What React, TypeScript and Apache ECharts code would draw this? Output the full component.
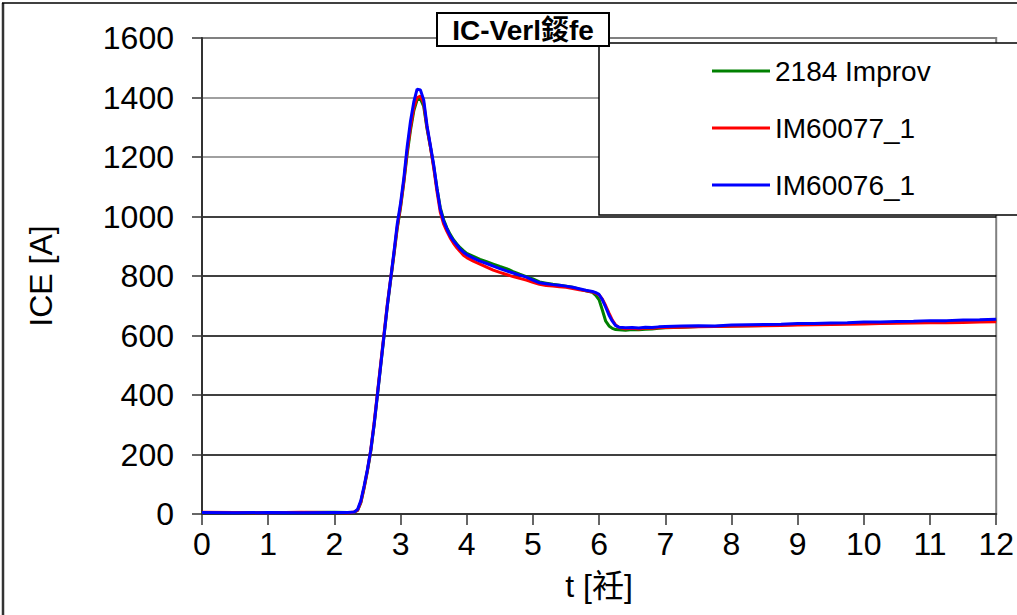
import React, { useEffect, useRef } from "react";
import * as echarts from "echarts";

const seriesNames = ["2184 Improv", "IM60077_1", "IM60076_1"];
const seriesColors = ["#008000", "#ff0000", "#0000ff"];

const xTicks = [0, 1, 2, 3, 4, 5, 6, 7, 8, 9, 10, 11, 12];
const yTicks = [0, 200, 400, 600, 800, 1000, 1200, 1400, 1600];

const timeS = [
  0, 0.5, 1, 1.5, 2, 2.2,
  2.25, 2.3, 2.35, 2.4, 2.45, 2.5, 2.55, 2.6, 2.65, 2.7, 2.75, 2.8, 2.85, 2.9, 2.95, 3, 3.05, 3.1, 3.15, 3.2,
  3.25, 3.3, 3.35, 3.4, 3.45, 3.5, 3.55, 3.6, 3.65, 3.7, 3.75, 3.8, 3.85, 3.9, 3.95, 4,
  4.1, 4.2, 4.3, 4.4, 4.5, 4.6, 4.7, 4.8, 4.9, 5, 5.1, 5.2, 5.3, 5.4, 5.5, 5.6, 5.7, 5.8, 5.9,
  5.95,
  6, 6.05, 6.1, 6.15, 6.2, 6.25, 6.3,
  6.4, 6.5, 6.6, 6.7, 6.8, 6.9, 7,
  7.25, 7.5, 7.75, 8, 8.25, 8.5, 8.75, 9, 9.25, 9.5, 9.75, 10, 10.25, 10.5, 10.75, 11, 11.25, 11.5, 11.75, 12,
];

const green2184 = [
  5, 5, 4, 5, 6, 5,
  5, 6, 12, 38, 88, 145, 210, 298, 398, 498, 598, 698, 785, 870, 960, 1030, 1115, 1210, 1290, 1355,
  1392, 1395, 1370, 1295, 1235, 1170, 1095, 1030, 990, 962, 940, 922, 908, 895, 885, 876,
  866, 856, 848, 840, 832, 825, 815, 806, 798, 790, 780, 776, 772, 769, 766, 762, 756, 750, 745,
  735,
  720, 685, 648, 632, 624, 620, 619,
  618, 620, 619, 621, 622, 624, 626,
  628, 630, 630, 632, 633, 634, 636, 637, 638, 639, 640, 642, 642, 644, 645, 646, 647, 648, 649, 650,
];

const redIM60077 = [
  6, 5, 4, 6, 5, 4,
  5, 7, 12, 40, 90, 148, 215, 305, 405, 505, 605, 705, 790, 875, 965, 1035, 1120, 1220, 1300, 1365,
  1400, 1405, 1380, 1300, 1235, 1165, 1085, 1015, 975, 950, 928, 910, 895, 882, 870, 862,
  850, 840, 830, 820, 812, 805, 798, 792, 786, 779, 772, 768, 766, 764, 762, 758, 754, 750, 746,
  742,
  736, 722, 700, 675, 652, 635, 627,
  623, 624, 622, 625, 624, 626, 627,
  628, 629, 630, 631, 632, 633, 634, 635, 636, 637, 638, 639, 640, 641, 642, 643, 643, 644, 645, 646,
];

const blueIM60076 = [
  5, 4, 5, 4, 5, 5,
  6, 7, 15, 45, 95, 150, 215, 300, 400, 500, 600, 700, 790, 880, 975, 1045, 1130, 1235, 1320, 1385,
  1428, 1425, 1392, 1305, 1240, 1175, 1095, 1025, 985, 958, 935, 918, 905, 890, 880, 872,
  860, 850, 842, 833, 825, 817, 810, 803, 796, 786, 777, 774, 771, 769, 766, 762, 757, 752, 748,
  744,
  738, 720, 695, 668, 648, 633, 628,
  626, 627, 625, 628, 627, 629, 630,
  632, 633, 632, 635, 636, 637, 638, 640, 640, 642, 643, 645, 645, 647, 648, 650, 650, 652, 653, 655,
];

const seriesValues = [green2184, redIM60077, blueIM60076];

const FONT = "'Liberation Sans', Arial, 'Noto Sans CJK SC', sans-serif";

export default function App() {
  const ref = useRef<HTMLDivElement>(null);

  useEffect(() => {
    if (!ref.current) return;
    const chart = echarts.init(ref.current, undefined, { renderer: "svg" });

    const gridColors = yTicks.map((v) => (v >= 1200 ? "#808080" : "#000000"));

    chart.setOption({
      animation: false,
      backgroundColor: "#ffffff",
      grid: {
        left: 202,
        top: 38,
        right: 18,
        bottom: 101,
        show: true,
        borderColor: "#808080",
        borderWidth: 2,
        backgroundColor: "transparent",
      },
      legend: {
        orient: "vertical",
        left: 712,
        top: 55,
        padding: 0,
        icon: "rect",
        itemWidth: 58,
        itemHeight: 3,
        itemGap: 25,
        z: 110,
        data: seriesNames,
        textStyle: { fontFamily: FONT, fontSize: 28, color: "#000", lineHeight: 32 },
      },
      xAxis: {
        type: "value",
        min: xTicks[0],
        max: xTicks[xTicks.length - 1],
        interval: 1,
        name: "t [衽]",
        nameLocation: "middle",
        nameGap: 56,
        nameTextStyle: { fontFamily: FONT, fontSize: 32, color: "#000" },
        axisLine: { show: true, lineStyle: { color: "#333", width: 2 } },
        axisTick: { show: true, length: 11, lineStyle: { color: "#333", width: 1.5 } },
        axisLabel: { fontFamily: FONT, fontSize: 32, color: "#000", margin: 14 },
        splitLine: { show: false },
      },
      yAxis: {
        type: "value",
        min: yTicks[0],
        max: yTicks[yTicks.length - 1],
        interval: 200,
        name: "ICE [A]",
        nameLocation: "middle",
        nameRotate: 90,
        nameGap: 145,
        nameTextStyle: { fontFamily: FONT, fontSize: 32, color: "#000" },
        axisLine: { show: true, lineStyle: { color: "#333", width: 2 } },
        axisTick: { show: true, length: 10, lineStyle: { color: "#333", width: 1.5 } },
        axisLabel: {
          fontFamily: FONT,
          fontSize: 32,
          color: "#000",
          margin: 28,
          formatter: (v: number) => String(v),
        },
        splitLine: { show: true, lineStyle: { color: gridColors, width: 1.5 } },
      },
      series: seriesNames.map((name, i) => ({
        name,
        type: "line",
        showSymbol: false,
        symbol: "none",
        z: 2 + i,
        lineStyle: { color: seriesColors[i], width: 3 },
        itemStyle: { color: seriesColors[i] },
        data: timeS.map((t, k) => [t, seriesValues[i][k]]),
      })),
      graphic: [
        {
          type: "line",
          z: 50,
          shape: { x1: 3, y1: 3, x2: 3, y2: 620 },
          style: { stroke: "#333", lineWidth: 2.5 },
        },
        {
          type: "line",
          z: 50,
          shape: { x1: 2, y1: 3, x2: 1020, y2: 3 },
          style: { stroke: "#000", lineWidth: 1.5 },
        },
        {
          type: "rect",
          z: 100,
          shape: { x: 599, y: 43, width: 440, height: 172 },
          style: { fill: "#ffffff", stroke: "#000", lineWidth: 1.5 },
        },
        {
          type: "rect",
          z: 120,
          shape: { x: 437, y: 13, width: 172, height: 33 },
          style: { fill: "#ffffff", stroke: "#000", lineWidth: 2 },
        },
        {
          type: "text",
          z: 121,
          x: 523,
          y: 30,
          style: {
            text: "IC-Verl錽fe",
            fontFamily: FONT,
            fontWeight: "bold",
            fontSize: 28,
            fill: "#000",
            align: "center",
            verticalAlign: "middle",
          },
        },
      ],
    });

    return () => chart.dispose();
  }, []);

  return (
    <div
      ref={ref}
      style={{ position: "fixed", left: 0, top: 0, width: 1017, height: 615 }}
    />
  );
}
